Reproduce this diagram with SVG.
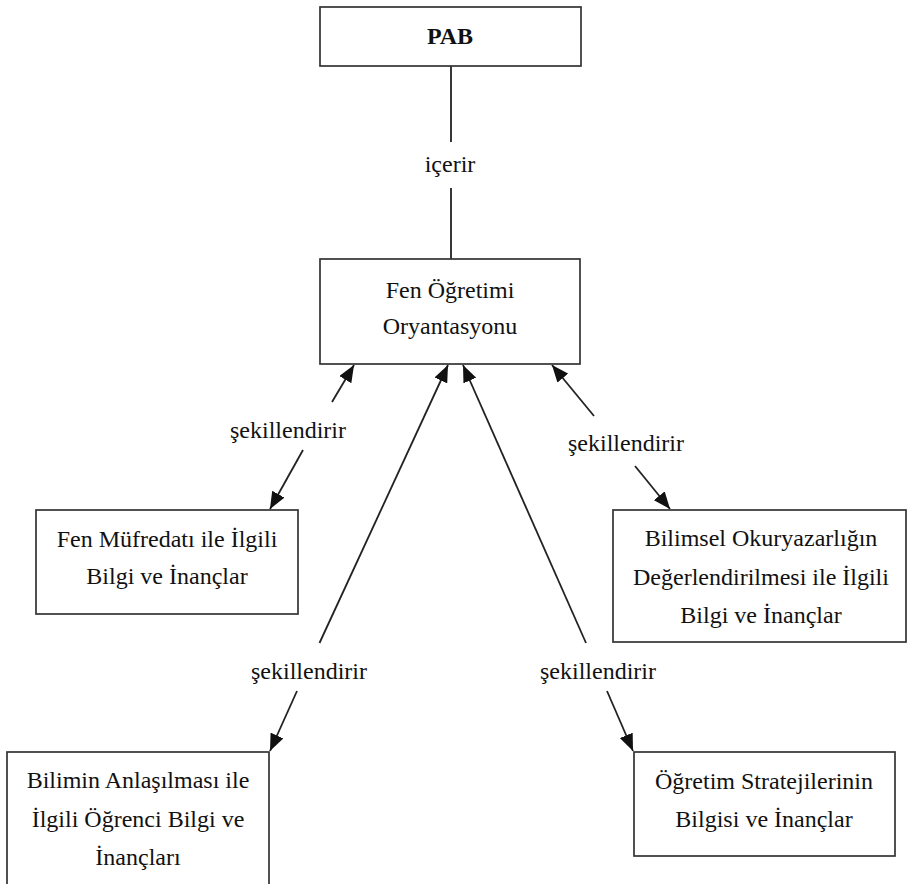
<svg xmlns="http://www.w3.org/2000/svg" width="907" height="884" viewBox="0 0 907 884">
<style>
.box{fill:#fff;stroke:#333;stroke-width:1.7}
.t{font-family:"Liberation Serif","DejaVu Serif",serif;font-size:24px;fill:#111;text-anchor:middle}
.b{font-weight:bold}
.ln{stroke:#222;stroke-width:1.8;fill:none}
.ar{stroke:#222;stroke-width:1.8;fill:none;marker-end:url(#ah)}
</style>
<defs>
<marker id="ah" markerUnits="userSpaceOnUse" markerWidth="17" markerHeight="14" refX="17" refY="7" orient="auto">
<path d="M0,0 L17,7 L0,14 z" fill="#111"/>
</marker>
</defs>
<rect width="907" height="884" fill="#fff"/>
<g id="connectors">
<line class="ln" x1="451" y1="66" x2="451" y2="142"/>
<line class="ln" x1="451" y1="188" x2="451" y2="259"/>
<text class="t" x="450" y="172">içerir</text>
<line class="ar" x1="332" y1="402" x2="354" y2="365"/>
<line class="ar" x1="303" y1="450" x2="270" y2="509"/>
<text class="t" x="288" y="438">şekillendirir</text>
<line class="ar" x1="319.5" y1="643" x2="448" y2="365"/>
<line class="ar" x1="297" y1="691" x2="270" y2="751"/>
<text class="t" x="309" y="679">şekillendirir</text>
<line class="ar" x1="586" y1="643" x2="463" y2="365"/>
<line class="ar" x1="607" y1="691" x2="633" y2="751"/>
<text class="t" x="598" y="679">şekillendirir</text>
<line class="ar" x1="594" y1="416" x2="552" y2="365"/>
<line class="ar" x1="635" y1="466" x2="670" y2="509"/>
<text class="t" x="626" y="451">şekillendirir</text>
</g>
<g id="pab">
<rect class="box" x="320" y="7" width="261" height="59"/>
<text class="t b" x="450" y="44">PAB</text>
</g>
<g id="fen">
<rect class="box" x="320" y="259" width="260" height="105"/>
<text class="t" x="450" y="298">Fen Öğretimi</text>
<text class="t" x="450" y="334">Oryantasyonu</text>
</g>
<g id="mufredat">
<rect class="box" x="36" y="510" width="262" height="104"/>
<text class="t" x="167" y="547">Fen Müfredatı ile İlgili</text>
<text class="t" x="167" y="584">Bilgi ve İnançlar</text>
</g>
<g id="okuryazarlik">
<rect class="box" x="613" y="510" width="293" height="132"/>
<text class="t" x="761" y="546">Bilimsel Okuryazarlığın</text>
<text class="t" x="761" y="585">Değerlendirilmesi ile İlgili</text>
<text class="t" x="761" y="623">Bilgi ve İnançlar</text>
</g>
<g id="anlasilma">
<rect class="box" x="7" y="752" width="262" height="140"/>
<text class="t" x="138" y="788">Bilimin Anlaşılması ile</text>
<text class="t" x="138" y="827">İlgili Öğrenci Bilgi ve</text>
<text class="t" x="138" y="865">İnançları</text>
</g>
<g id="strateji">
<rect class="box" x="634" y="752" width="261" height="104"/>
<text class="t" x="764" y="789">Öğretim Stratejilerinin</text>
<text class="t" x="764" y="827">Bilgisi ve İnançlar</text>
</g>
</svg>
